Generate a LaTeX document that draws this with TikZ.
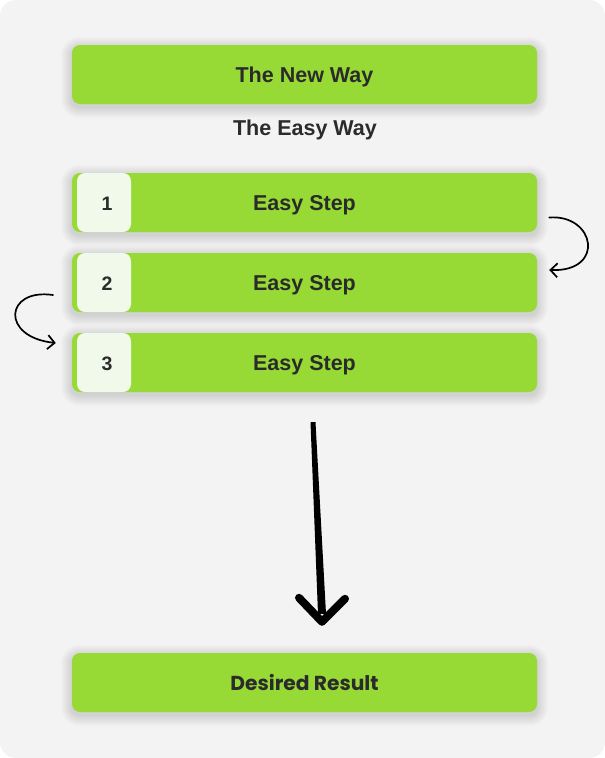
\documentclass[tikz,border=0pt]{standalone}
\usepackage{fontspec}
\setmainfont{Liberation Sans}
\newfontfamily\popp{Poppins}
\usetikzlibrary{arrows.meta}
\definecolor{bggray}{HTML}{F3F3F3}
\definecolor{leaf}{HTML}{97D935}
\definecolor{pale}{HTML}{F1F9EA}
\definecolor{ink}{HTML}{2B2B2B}
\pgfdeclarelayer{bglayer}
\pgfdeclarelayer{shadowlayer}
\pgfsetlayers{bglayer,shadowlayer,main}
\tikzset{
  greenbar/.style={fill=leaf, rounded corners=8pt, minimum width=465pt, minimum height=59pt,
    inner sep=0pt, text=ink, text depth=0pt, font=\fontsize{21.5}{24}\selectfont\bfseries},
  numbox/.style={fill=pale, rounded corners=8pt, minimum width=54pt, minimum height=59pt,
    inner sep=0pt},
  numtext/.style={inner sep=0pt, text=ink, text depth=0pt, font=\fontsize{19.5}{21}\selectfont\bfseries},
  curly/.style={line width=1.7pt, line cap=round, line join=round, black,
    -{Straight Barb[length=7pt,width=14pt,line width=1.7pt]}},
  shadowring/.style={fill=black, opacity=0.011},
}
\newcommand{\softshadow}[1]{%
  \begin{pgfonlayer}{shadowlayer}
  \foreach \i in {1,...,11}{
    \fill[shadowring, rounded corners=8pt+\i pt]
      ([shift={(-\i,-\i+3)}]#1.north west) rectangle ([shift={(\i,\i+3)}]#1.south east);
  }
  \end{pgfonlayer}}
\begin{document}
\begin{tikzpicture}[x=1pt,y=-1pt]
\useasboundingbox (0,0) rectangle (605,758);
\begin{pgfonlayer}{bglayer}
\fill[white] (0,0) rectangle (605,758);
\fill[bggray, rounded corners=16pt] (0,0) rectangle (605,758);
\end{pgfonlayer}

\node[greenbar] (newway) at (304.5,74.5) {The New Way};
\node[text=ink, font=\fontsize{21.5}{24}\selectfont\bfseries] (easyway) at (305,130) {The Easy Way};

\node[greenbar] (s1) at (304.5,202.5) {Easy Step};
\node[greenbar] (s2) at (304.5,282.5) {Easy Step};
\node[greenbar] (s3) at (304.5,362.5) {Easy Step};
\node[numbox] (n1) at (104,202.5) {};
\node[numbox] (n2) at (104,282.5) {};
\node[numbox] (n3) at (104,362.5) {};
\node[numtext] (d1) at ([xshift=3pt,yshift=-1pt]n1.center) {1};
\node[numtext] (d2) at ([xshift=3pt,yshift=-1pt]n2.center) {2};
\node[numtext] (d3) at ([xshift=3pt,yshift=-1pt]n3.center) {3};

\node[greenbar, font=\fontsize{20.2}{22}\popp\bfseries] (result) at (304.5,682.5) {Desired Result};

\softshadow{newway}
\softshadow{s1}
\softshadow{s2}
\softshadow{s3}
\softshadow{result}

% curved arrows
\coordinate (ra) at ([xshift=12pt,yshift=-15pt]s1.east);
\coordinate (rb) at ([xshift=12pt,yshift=12.5pt]s2.east);
\draw[curly] (ra) .. controls (595,214) and (606,272) .. (rb);
\coordinate (la) at ([xshift=-51pt,yshift=-12.5pt]n2.center);
\coordinate (lb) at ([xshift=-21pt,yshift=19.5pt]n3.west);
\draw[curly] (la) .. controls (5,288) and (0,337) .. (lb);

% big arrow
\coordinate (bt) at ([xshift=8.5pt,yshift=-30pt]s3.south);
\coordinate (bh) at ([xshift=17.5pt,yshift=31pt]result.north);
\fill[black] ([xshift=-2.5pt]bt) -- ([xshift=2.5pt]bt) -- ([xshift=4pt,yshift=8pt]bh) -- ([xshift=-4pt,yshift=8pt]bh) -- cycle;
\draw[black, line width=8pt, line cap=round, line join=round]
  ([xshift=-23pt,yshift=24pt]bh) -- (bh) -- ([xshift=23pt,yshift=23pt]bh);
\end{tikzpicture}
\end{document}
